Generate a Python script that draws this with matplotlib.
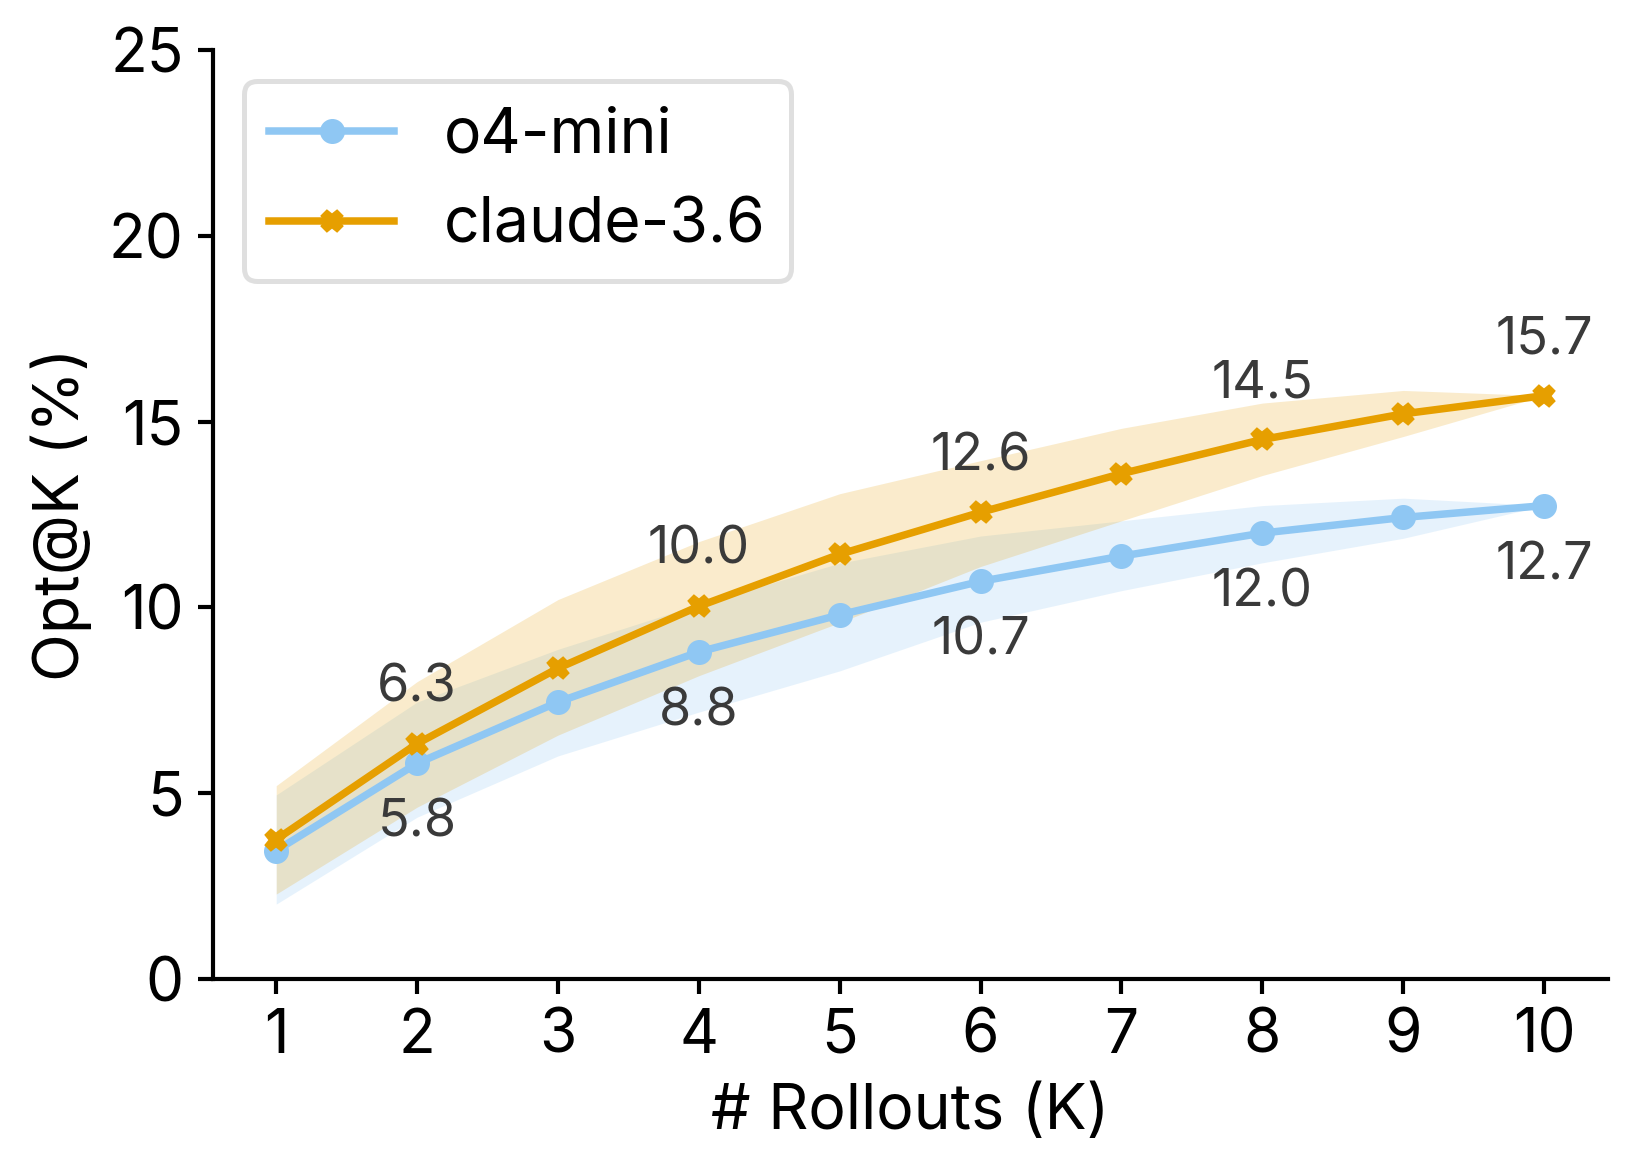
import numpy as np
import matplotlib.pyplot as plt

plt.rcParams['font.family'] = ['Inter', 'DejaVu Sans']

rollouts = [1, 2, 3, 4, 5, 6, 7, 8, 9, 10]

o4_mean = [3.45, 5.8, 7.45, 8.8, 9.8, 10.7, 11.38, 12.0, 12.42, 12.74]
o4_low = [2.01, 4.35, 6.0, 7.18, 8.29, 9.6, 10.45, 11.2, 11.86, 12.74]
o4_high = [4.95, 7.45, 8.87, 10.08, 11.19, 11.92, 12.33, 12.74, 12.94, 12.74]

claude_mean = [3.75, 6.33, 8.36, 10.03, 11.43, 12.56, 13.6, 14.52, 15.21, 15.7]
claude_low = [2.28, 4.62, 6.56, 8.16, 9.59, 11.1, 12.33, 13.55, 14.6, 15.7]
claude_high = [5.2, 8.0, 10.21, 11.77, 13.06, 13.95, 14.82, 15.5, 15.84, 15.7]

o4_labels = ["5.8", "8.8", "10.7", "12.0", "12.7"]
claude_labels = ["6.3", "10.0", "12.6", "14.5", "15.7"]
label_x = [2, 4, 6, 8, 10]

blue = '#8FC7F3'
orange = '#E69F00'

fig = plt.figure(figsize=(1637/300, 1168/300), dpi=300)
ax = fig.add_axes([0.130, 0.162, 0.852, 0.795])

ax.fill_between(rollouts, o4_low, o4_high, color=blue, alpha=0.22, linewidth=0)
ax.fill_between(rollouts, claude_low, claude_high, color=orange, alpha=0.2, linewidth=0)
ax.plot(rollouts, o4_mean, color=blue, marker='o', markersize=5, linewidth=1.8, label='o4-mini')
ax.plot(rollouts, claude_mean, color=orange, marker='X', markersize=4.5, linewidth=1.8, label='claude-3.6')

for i, x in enumerate(label_x):
    ax.annotate(o4_labels[i], (x, o4_mean[x-1]), xytext=(0, -8.5), textcoords='offset points',
                ha='center', va='top', fontsize=12.5, color='#3a3a3a')
    ax.annotate(claude_labels[i], (x, claude_mean[x-1]), xytext=(0, 7.5), textcoords='offset points',
                ha='center', va='bottom', fontsize=12.5, color='#3a3a3a')

ax.set_ylim(0, 25)
ax.set_xticks(rollouts)
ax.set_yticks([0, 5, 10, 15, 20, 25])
ax.tick_params(labelsize=14.5, width=1.0, length=3.5)
ax.set_xlabel('# Rollouts (K)', fontsize=15)
ax.set_ylabel('Opt@K (%)', fontsize=15)
for s in ['top', 'right']:
    ax.spines[s].set_visible(False)
for s in ['left', 'bottom']:
    ax.spines[s].set_linewidth(1.0)

leg = ax.legend(loc='upper left', fontsize=15, frameon=True)
leg.get_frame().set_edgecolor('#d8d8d8')
leg.get_frame().set_linewidth(1.2)

fig.savefig('out.png', dpi=300)
